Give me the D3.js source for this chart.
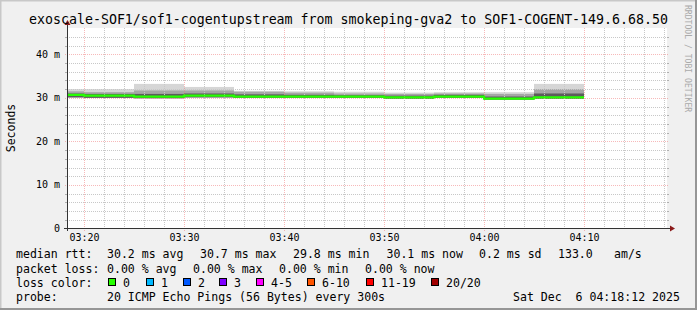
<!DOCTYPE html>
<html>
<head>
<meta charset="utf-8">
<script src="https://cdn.jsdelivr.net/npm/d3@7"></script>
<style>
  html, body { margin: 0; padding: 0; background: #f0f0f0; }
  svg text { font-family: 'DejaVu Sans Mono', monospace; }
</style>
</head>
<body>
<div id="chart"></div>
<script>
//
// Smokeping latency graph (rrdtool look) drawn with D3
//
const title = 'exoscale-SOF1/sof1-cogentupstream from smokeping-gva2 to SOF1-COGENT-149.6.68.50'
// end time of each 5 minute step
const stepEnds = ['03:20', '03:25', '03:30', '03:35', '03:40', '03:45', '03:50', '03:55', '04:00', '04:05', '04:10']
// median rtt per step (ms)
const median = [30.7, 30.5, 30.3, 30.5, 30.3, 30.3, 30.3, 30.1, 30.3, 29.8, 30.1]
// smoke (spread of the 20 pings, ms)
const pingMin = [30.1, 30.0, 29.9, 30.1, 30.0, 30.0, 30.0, 29.8, 30.0, 29.6, 29.8]
const pingP60 = [31.0, 30.9, 30.9, 31.0, 30.8, 30.7, 30.6, 30.5, 30.7, 30.3, 31.0]
const pingP75 = [31.5, 31.3, 31.7, 31.7, 31.4, 31.2, 31.0, 30.9, 31.0, 30.9, 32.0]
const pingMax = [32.0, 32.0, 33.2, 32.5, 31.6, 31.5, 31.4, 31.2, 31.3, 31.3, 33.2]
const yTicks = [0, 10, 20, 30, 40]
const xTickLabels = ['03:20', '03:30', '03:40', '03:50', '04:00', '04:10']
const lossLabels = ['0', '1', '2', '3', '4-5', '6-10', '11-19', '20/20']
const lossColours = ['#26ff00', '#00b8ff', '#0059ff', '#7e00ff', '#ff00ff', '#ff5500', '#ff0000', '#a10000']

const W = 697
const H = 310
const parseTime = s => { const p = s.split(':'); return new Date(2025, 11, 6, +p[0], +p[1], 0) }
const tStart = new Date(2025, 11, 6, 3, 18, 18)
const tEnd = new Date(2025, 11, 6, 4, 18, 18)

const svg = d3.select('#chart').append('svg')
  .attr('width', W).attr('height', H)

// background and 3d-ish frame
svg.append('rect').attr('width', W).attr('height', H).attr('fill', '#f0f0f0')
svg.append('path').attr('d', `M0,${H} V0 H${W}`).attr('fill', 'none').attr('stroke', '#c8c8c8').attr('stroke-width', 3)
svg.append('path').attr('d', `M0,${H} H${W} V0`).attr('fill', 'none').attr('stroke', '#969696').attr('stroke-width', 4)

const x = d3.scaleTime().domain([tStart, tEnd]).range([67, 667])
const y = d3.scaleLinear().domain([0, 45.92]).range([228.5, 28.5])

// canvas
svg.append('rect').attr('x', 67).attr('y', 28).attr('width', 600).attr('height', 200).attr('fill', '#ffffff')

const grid = svg.append('g')
// minor grid
const minorY = d3.range(2, 46, 2).filter(v => v % 10 !== 0)
grid.selectAll('.hmin').data(minorY).enter().append('line')
  .attr('x1', 67).attr('x2', 667)
  .attr('y1', d => Math.round(y(d)) + 0.5).attr('y2', d => Math.round(y(d)) + 0.5)
  .attr('stroke', '#c8c8c8').attr('stroke-dasharray', '1,1')
const minorX = d3.timeMinute.every(2).range(tStart, tEnd).filter(d => d.getMinutes() % 10 !== 0)
grid.selectAll('.vmin').data(minorX).enter().append('line')
  .attr('y1', 28).attr('y2', 228)
  .attr('x1', d => Math.round(x(d)) + 0.5).attr('x2', d => Math.round(x(d)) + 0.5)
  .attr('stroke', '#c8c8c8').attr('stroke-dasharray', '1,1')
// little solid ticks at grid ends
minorY.forEach(v => {
  const yy = Math.round(y(v)) + 0.5
  grid.append('line').attr('x1', 65).attr('x2', 67).attr('y1', yy).attr('y2', yy).attr('stroke', '#b0b0b0')
  grid.append('line').attr('x1', 667).attr('x2', 669).attr('y1', yy).attr('y2', yy).attr('stroke', '#b0b0b0')
})

// smoke
const steps = stepEnds.map((s, i) => {
  const end = parseTime(s)
  const start = new Date(Math.max(end - 300000, tStart))
  return { start, end, i }
})
const bands = [
  { lo: pingMin, hi: pingMax, colour: '#d6d6d6' },
  { lo: pingMin, hi: pingP75, colour: '#a6a6a6' },
  { lo: pingMin, hi: pingP60, colour: '#5c5c5c' }
]
bands.forEach(b => {
  svg.append('g').selectAll('rect').data(steps).enter().append('rect')
    .attr('x', d => x(d.start)).attr('width', d => x(d.end) - x(d.start))
    .attr('y', d => y(b.hi[d.i])).attr('height', d => y(b.lo[d.i]) - y(b.hi[d.i]))
    .attr('fill', b.colour)
})

// major grid (drawn over the smoke)
const majorX = xTickLabels.map(parseTime)
grid.raise()
svg.append('g').selectAll('line').data(yTicks.filter(v => v > 0)).enter().append('line')
  .attr('x1', 65).attr('x2', 669)
  .attr('y1', d => Math.round(y(d)) + 0.5).attr('y2', d => Math.round(y(d)) + 0.5)
  .attr('stroke', '#f08080').attr('stroke-opacity', 0.55).attr('stroke-dasharray', '1,1')
svg.append('g').selectAll('line').data(majorX).enter().append('line')
  .attr('y1', 28).attr('y2', 231)
  .attr('x1', d => Math.round(x(d)) + 0.5).attr('x2', d => Math.round(x(d)) + 0.5)
  .attr('stroke', '#f08080').attr('stroke-opacity', 0.55).attr('stroke-dasharray', '1,1')

// median line, loss colour 0
const medLine = d3.line().curve(d3.curveStepBefore)
  .x(d => x(d.t)).y(d => y(d.v))
const medPts = [{ t: tStart, v: median[0] }].concat(steps.map(d => ({ t: d.end, v: median[d.i] })))
svg.append('path').datum(medPts)
  .attr('d', medLine)
  .attr('fill', 'none').attr('stroke', lossColours[0]).attr('stroke-width', 2.2)

// axes
svg.append('line').attr('x1', 64).attr('x2', 670).attr('y1', 228.5).attr('y2', 228.5).attr('stroke', '#333')
svg.append('line').attr('x1', 67.5).attr('x2', 67.5).attr('y1', 231).attr('y2', 25).attr('stroke', '#333')
svg.append('path').attr('d', 'M670,225.5 L675,228.5 L670,231.5 Z').attr('fill', '#8b1a1a')
svg.append('path').attr('d', 'M64.5,25 L67.5,20 L70.5,25 Z').attr('fill', '#8b1a1a')

// y tick labels
svg.append('g').selectAll('text').data(yTicks).enter().append('text')
  .attr('x', 60).attr('y', d => y(d) + 3.5)
  .attr('text-anchor', 'end').attr('font-size', 10).attr('fill', '#000')
  .text(d => d === 0 ? '0' : d + ' m')

// x tick labels
const fmt = d3.timeFormat('%H:%M')
svg.append('g').selectAll('text').data(majorX).enter().append('text')
  .attr('x', d => x(d) + 0.5).attr('y', 240.5)
  .attr('text-anchor', 'middle').attr('font-size', 10).attr('fill', '#000')
  .text(d => fmt(d))

// title and axis label
svg.append('text').attr('x', 348.5).attr('y', 23.5).attr('text-anchor', 'middle')
  .attr('font-size', 13.28).text(title)
svg.append('text').attr('transform', 'translate(15,128) rotate(-90)').attr('text-anchor', 'middle')
  .attr('font-size', 11.5).text('Seconds')
svg.append('text').attr('transform', 'translate(684.5,5) rotate(90)')
  .attr('font-size', 8.1).attr('fill', '#aaaaaa').text('RRDTOOL / TOBI OETIKER')

// legend
const legend = svg.append('g').attr('font-size', 11.55).attr('fill', '#000')
const putText = (xx, yy, t) => legend.append('text').attr('x', xx).attr('y', yy).attr('xml:space', 'preserve').text(t)
putText(16, 258, 'median rtt:')
putText(107, 258, '30.2 ms avg')
putText(200, 258, '30.7 ms max')
putText(293, 258, '29.8 ms min')
putText(386.5, 258, '30.1 ms now')
putText(479, 258, '0.2 ms sd')
putText(558, 258, '133.0')
putText(614, 258, 'am/s')
putText(16, 272.5, 'packet loss:')
putText(107, 272.5, '0.00 % avg')
putText(193, 272.5, '0.00 % max')
putText(279, 272.5, '0.00 % min')
putText(365, 272.5, '0.00 % now')
putText(16, 286.5, 'loss color:')
const boxX = [108, 146, 183, 219, 256, 307, 366, 431]
lossLabels.forEach((l, i) => {
  legend.append('rect').attr('x', boxX[i] + 0.5).attr('y', 278.5).attr('width', 7).attr('height', 7)
    .attr('fill', lossColours[i]).attr('stroke', '#000')
  putText(boxX[i] + 15, 286.5, l)
})
putText(16, 300.5, 'probe:')
putText(107, 300.5, '20 ICMP Echo Pings (56 Bytes) every 300s')
putText(513, 300.5, 'Sat Dec  6 04:18:12 2025')
</script>
</body>
</html>
